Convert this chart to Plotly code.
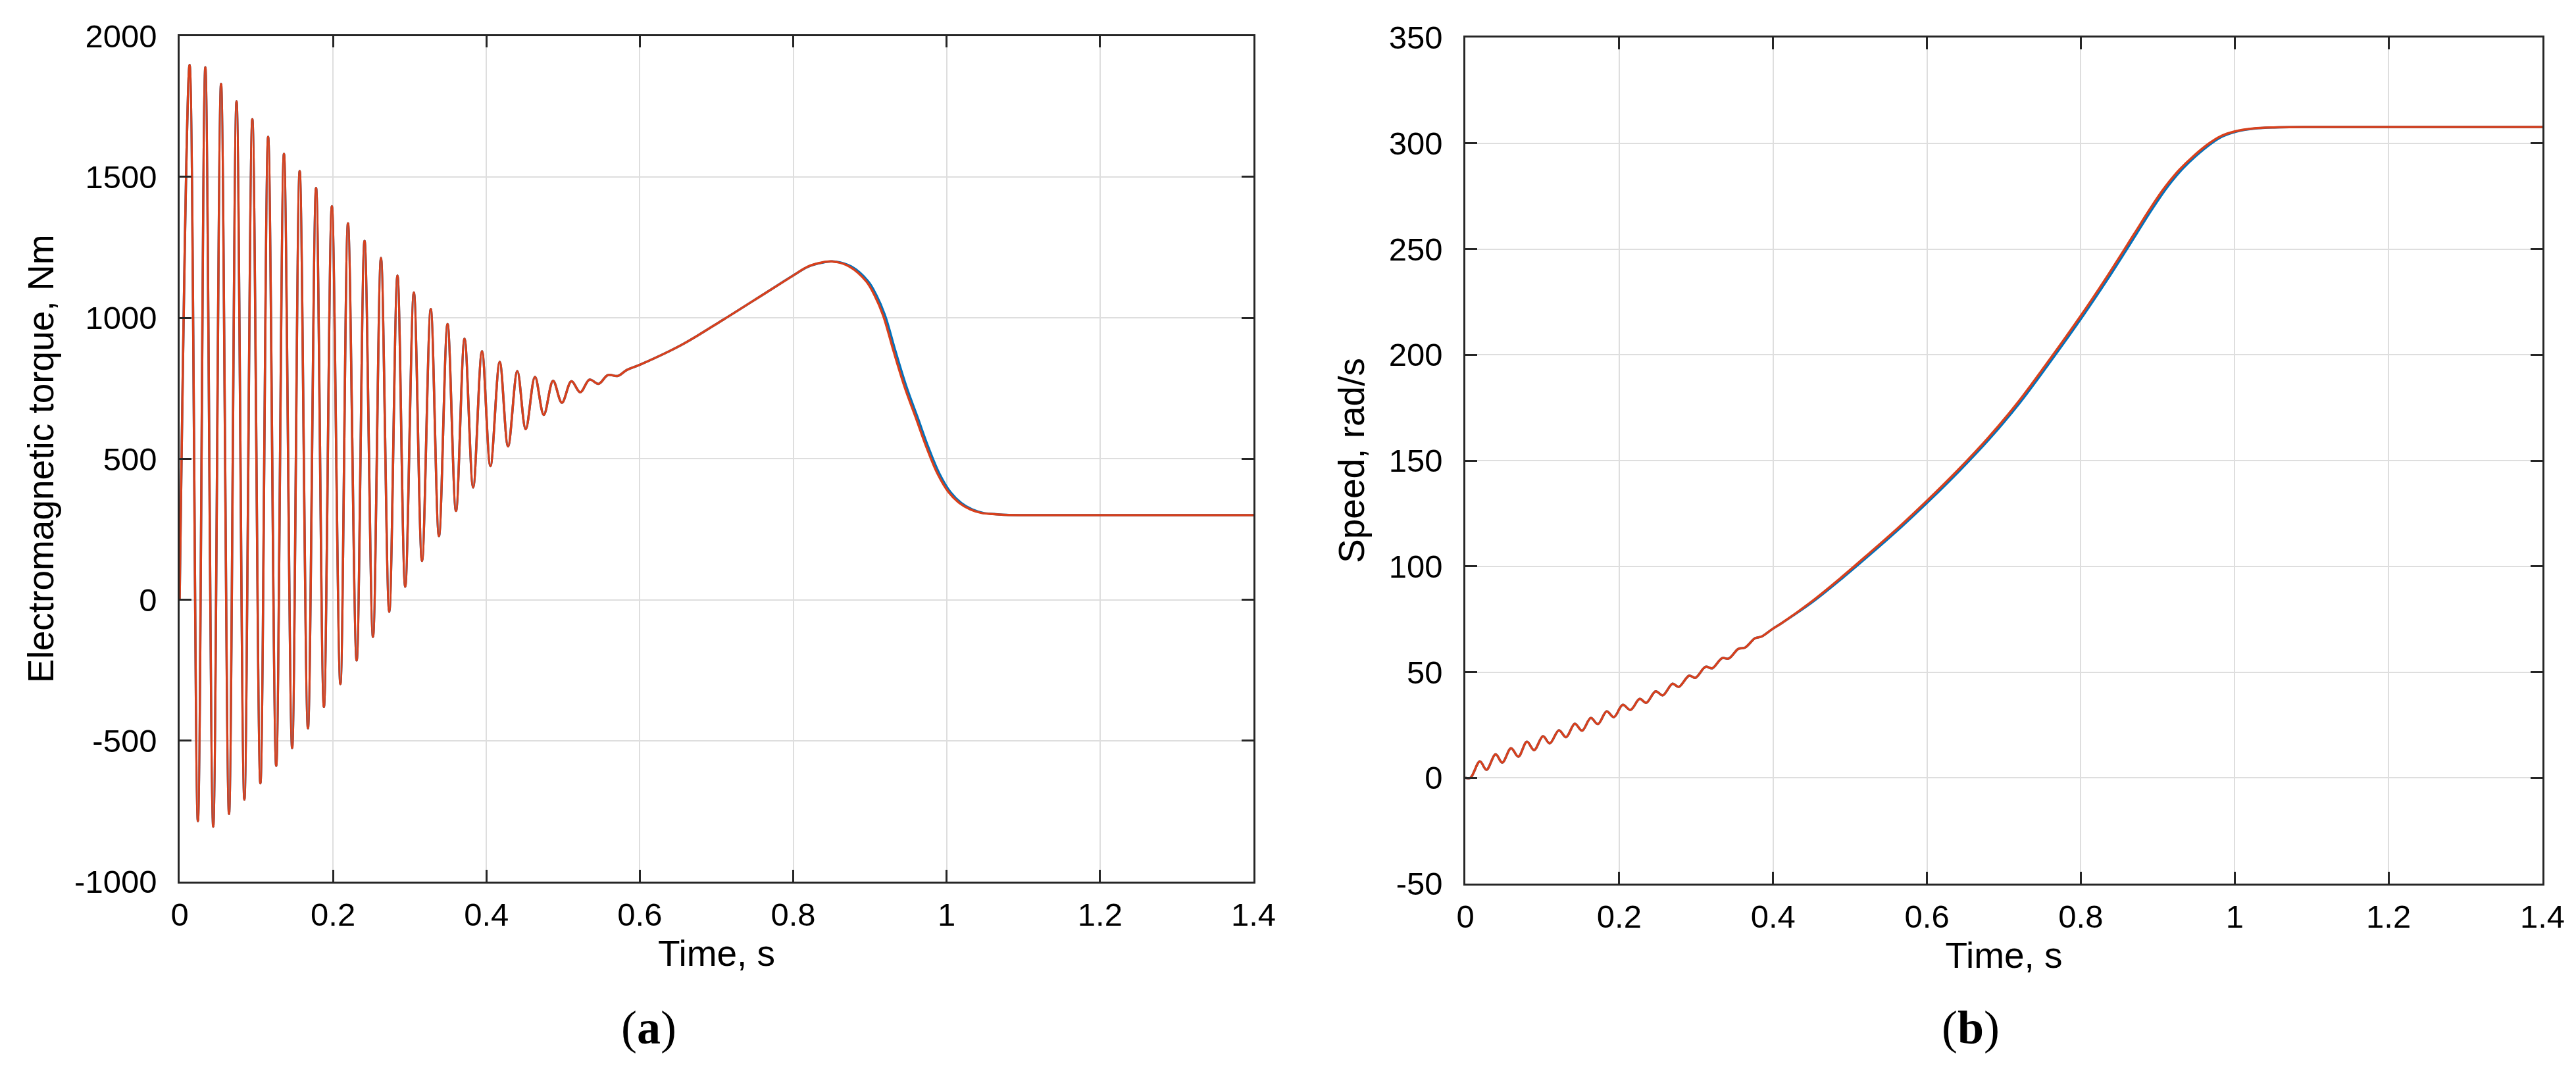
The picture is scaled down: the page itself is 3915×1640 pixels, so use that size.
import plotly.graph_objects as go

# ---------------- Data: (a) electromagnetic torque, Nm ----------------
torque_peak_t = [0.0130, 0.0335, 0.0540, 0.0742, 0.0948, 0.1154, 0.1360, 0.1565, 0.1779,
                 0.1985, 0.2195, 0.2411, 0.2625, 0.2840, 0.3054, 0.3274, 0.3493, 0.3715,
                 0.3942, 0.4173, 0.4403, 0.4633, 0.4869, 0.5108, 0.5344]
torque_peak_v = [1897, 1889, 1830, 1768, 1705, 1642, 1582, 1521, 1461, 1396, 1335, 1273,
                 1213, 1150, 1090, 1031, 978, 926, 882, 844, 811, 791, 777, 775, 781]
torque_trough_t = [0.0238, 0.0438, 0.0644, 0.0844, 0.1053, 0.1259, 0.1467, 0.1673, 0.1881,
                   0.2096, 0.2308, 0.2521, 0.2733, 0.2941, 0.3160, 0.3381, 0.3603, 0.3827,
                   0.4052, 0.4282, 0.4512, 0.4748, 0.4984, 0.5223, 0.5462]
torque_trough_v = [-785, -805, -760, -709, -651, -589, -526, -456, -380, -299, -215, -132,
                   -43, 46, 138, 226, 315, 398, 474, 544, 605, 656, 699, 736, 766]
torque_tail_t_red = [0.5583, 0.5712, 0.5830, 0.5996, 0.6543, 0.7090, 0.7637, 0.7998, 0.8184,
                     0.8350, 0.8512, 0.8732, 0.8950, 0.9060, 0.9170, 0.9310, 0.9452, 0.9595,
                     0.9738, 0.9881, 1.0024, 1.0167, 1.0310, 1.0453, 1.0596, 1.0756, 1.1000,
                     1.2000, 1.4000]
torque_tail_t_blue = [0.5583, 0.5712, 0.5830, 0.5996, 0.6543, 0.7090, 0.7637, 0.7998, 0.8190,
                      0.8365, 0.8530, 0.8757, 0.8975, 0.9085, 0.9195, 0.9335, 0.9477, 0.9620,
                      0.9763, 0.9906, 1.0049, 1.0192, 1.0335, 1.0478, 1.0621, 1.0781, 1.1000,
                      1.2000, 1.4000]
torque_tail_v = [797, 794, 815, 833, 904, 994, 1088, 1150, 1181, 1195, 1200, 1182, 1130,
                 1080, 1010, 880, 755, 648, 540, 447, 382, 343, 320, 308, 304, 301, 300,
                 300, 300]

# ---------------- Data: (b) speed, rad/s ----------------
speed_start_t = [0.0, 0.0066]
speed_start_v = [0.0, 0.0]
speed_peak_t = [0.0189, 0.0394, 0.0594, 0.0800, 0.1009, 0.1217, 0.1423, 0.1631, 0.1837,
                0.2046, 0.2266, 0.2474, 0.2694, 0.2909, 0.3123, 0.3337, 0.3550, 0.3766]
speed_peak_v = [7.8, 11.1, 14.0, 17.1, 19.7, 22.5, 25.6, 28.3, 31.4, 34.5, 37.3, 40.9,
                44.5, 48.3, 52.5, 56.6, 61.0, 66.0]
speed_trough_t = [0.0274, 0.0480, 0.0689, 0.0894, 0.1097, 0.1309, 0.1517, 0.1723, 0.1931,
                  0.2146, 0.2351, 0.2566, 0.2774, 0.2989, 0.3209, 0.3423, 0.3637, 0.3851]
speed_trough_v = [3.8, 7.2, 10.0, 13.1, 16.3, 19.2, 22.3, 25.4, 28.7, 32.1, 35.5, 39.0,
                  43.0, 47.3, 51.8, 56.4, 61.6, 66.8]
speed_tail_t_red = [0.3994, 0.4107, 0.4489, 0.4872, 0.5254, 0.5637, 0.6000, 0.6402, 0.6784,
                    0.7166, 0.7549, 0.8000, 0.8314, 0.8696, 0.8887, 0.9078, 0.9269, 0.9460,
                    0.9669, 0.9810, 1.0000, 1.0240, 1.0500, 1.1000, 1.4000]
speed_tail_t_blue = [0.3994, 0.4107, 0.4509, 0.4897, 0.5284, 0.5667, 0.6030, 0.6432, 0.6814,
                     0.7196, 0.7579, 0.8030, 0.8344, 0.8726, 0.8917, 0.9108, 0.9299, 0.9490,
                     0.9699, 0.9840, 1.0030, 1.0270, 1.0520, 1.1000, 1.4000]
speed_tail_v = [70.4, 73.0, 83.0, 94.3, 106.3, 118.6, 131.0, 145.5, 160.3, 176.8, 195.5,
                218.5, 235.5, 257.3, 268.3, 278.5, 287.0, 293.8, 300.0, 303.2, 305.6, 307.0,
                307.5, 307.7, 307.7]

x_ticks = [0, 0.2, 0.4, 0.6, 0.8, 1, 1.2, 1.4]
x_tick_text = ["0", "0.2", "0.4", "0.6", "0.8", "1", "1.2", "1.4"]
torque_ticks = [-1000, -500, 0, 500, 1000, 1500, 2000]
torque_tick_text = ["-1000", "-500", "0", "500", "1000", "1500", "2000"]
speed_ticks = [-50, 0, 50, 100, 150, 200, 250, 300, 350]
speed_tick_text = ["-50", "0", "50", "100", "150", "200", "250", "300", "350"]
panel_labels = ["a", "b"]
x_title = "Time, s"
torque_title = "Electromagnetic torque, Nm"
speed_title = "Speed, rad/s"

BLUE = "#0072BD"
RED = "#D8401C"
AX = "#262626"
GRID = "#DEDEDE"
FONT = "Liberation Sans, Arial, sans-serif"


def merge(a_t, a_v, b_t, b_v):
    pts = sorted(list(zip(a_t, a_v)) + list(zip(b_t, b_v)))
    return [p[0] for p in pts], [p[1] for p in pts]


osc_t, osc_v = merge(torque_peak_t, torque_peak_v, torque_trough_t, torque_trough_v)
torque_red_t = [0.0] + osc_t + torque_tail_t_red
torque_red_v = [0.0] + osc_v + torque_tail_v
torque_blue_t = [0.0] + osc_t + torque_tail_t_blue
torque_blue_v = [0.0] + osc_v + torque_tail_v

sp_t, sp_v = merge(speed_peak_t, speed_peak_v, speed_trough_t, speed_trough_v)
speed_red_t = speed_start_t + sp_t + speed_tail_t_red
speed_red_v = speed_start_v + sp_v + speed_tail_v
speed_blue_t = speed_start_t + sp_t + speed_tail_t_blue
speed_blue_v = speed_start_v + sp_v + speed_tail_v

fig = go.Figure()
line_kw = dict(shape="spline", smoothing=1.0, width=3.5)
fig.add_trace(go.Scatter(x=torque_blue_t, y=torque_blue_v, mode="lines",
                         line=dict(color=BLUE, **line_kw), xaxis="x", yaxis="y", showlegend=False))
fig.add_trace(go.Scatter(x=torque_red_t, y=torque_red_v, mode="lines",
                         line=dict(color=RED, **line_kw), xaxis="x", yaxis="y", showlegend=False))
fig.add_trace(go.Scatter(x=speed_blue_t, y=speed_blue_v, mode="lines",
                         line=dict(color=BLUE, **line_kw), xaxis="x2", yaxis="y2", showlegend=False))
fig.add_trace(go.Scatter(x=speed_red_t, y=speed_red_v, mode="lines",
                         line=dict(color=RED, **line_kw), xaxis="x2", yaxis="y2", showlegend=False))

axis_common = dict(
    showline=True, linecolor=AX, linewidth=2.5, mirror="ticks",
    ticks="inside", ticklen=18, tickwidth=2.5, tickcolor=AX,
    showgrid=True, gridcolor=GRID, gridwidth=2,
    zeroline=False, automargin=False,
    tickfont=dict(family=FONT, size=49, color="#000000"),
)
title_font = dict(family=FONT, size=55, color="#000000")

fig.update_layout(
    width=3915, height=1640,
    margin=dict(l=265, r=59, t=46, b=305, autoexpand=False),
    paper_bgcolor="white", plot_bgcolor="white",
    xaxis=dict(domain=[0.0, 0.45447], range=[0, 1.4], tickvals=x_ticks, ticktext=x_tick_text,
               ticklabelstandoff=5,
               title=dict(text=x_title, font=title_font, standoff=14),
               anchor="y", **axis_common),
    yaxis=dict(domain=[0.00233, 0.99946], range=[-1000, 2000], tickvals=torque_ticks,
               ticktext=torque_tick_text, ticklabelstandoff=22,
               title=dict(text=torque_title, font=title_font, standoff=14),
               anchor="x", **axis_common),
    xaxis2=dict(domain=[0.54414, 1.0], range=[0, 1.4], tickvals=x_ticks, ticktext=x_tick_text,
                ticklabelstandoff=5,
                title=dict(text=x_title, font=title_font, standoff=14),
                anchor="y2", **axis_common),
    yaxis2=dict(domain=[0.0, 0.99767], range=[-50, 350], tickvals=speed_ticks,
                ticktext=speed_tick_text, ticklabelstandoff=22,
                title=dict(text=speed_title, font=title_font, standoff=20),
                anchor="x2", **axis_common),
)

for xc, lab in zip([0.19855, 0.758], panel_labels):
    fig.add_annotation(x=xc, y=-0.17, xref="paper", yref="paper", showarrow=False,
                       text="(<b>" + lab + "</b>)", xanchor="center", yanchor="middle",
                       font=dict(family="Liberation Serif, Times New Roman, serif", size=72,
                                 color="#000000"))

fig.write_html("out.html")
